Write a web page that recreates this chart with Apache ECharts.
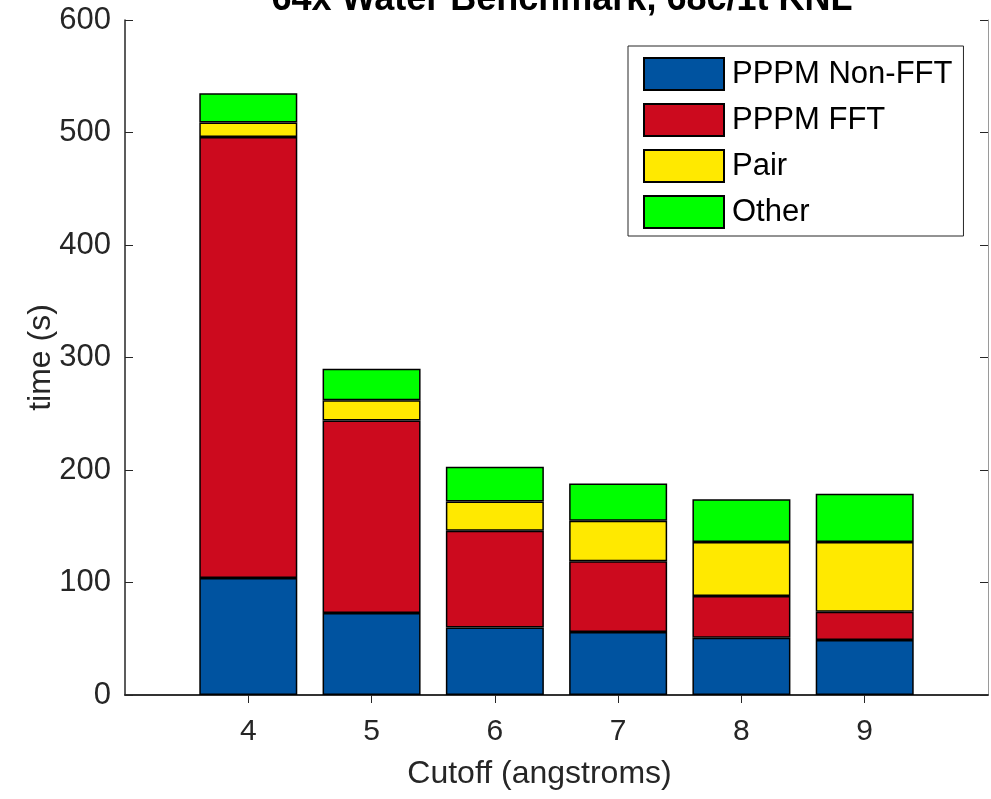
<!DOCTYPE html>
<html>
<head>
<meta charset="utf-8">
<title>64x Water Benchmark</title>
<script src="https://cdn.jsdelivr.net/npm/echarts@6/dist/echarts.min.js"></script>
<style>
  html, body { margin: 0; padding: 0; background: #ffffff; }
  #chart { width: 991px; height: 799px; }
</style>
</head>
<body>
<div id="chart"></div>
<script>
// Cutoff radius (angstroms) for each run; the axis spans 3..10
const cutoffs = [4, 5, 6, 7, 8, 9];
const axisSpan = [3, 4, 5, 6, 7, 8, 9, 10];

// Time spent in each part of the run, seconds
const pppmNonFFT = [104, 73, 60, 56, 51, 49];
const pppmFFT    = [392, 171, 86, 63, 37, 25];
const pairTime   = [13, 18, 26, 36, 48, 62];
const otherTime  = [26, 28, 31, 33, 38, 43];

const seriesNames  = ['PPPM Non-FFT', 'PPPM FFT', 'Pair', 'Other'];
const seriesColors = ['#0053A0', '#CC0A1E', '#FFE900', '#00FF00'];
const seriesValues = [pppmNonFFT, pppmFFT, pairTime, otherTime];

const yTicks = [0, 100, 200, 300, 400, 500, 600];

const FONT = 'Liberation Sans, Arial, Helvetica, sans-serif';
const INK = '#262626';

const chart = echarts.init(document.getElementById('chart'), null, { renderer: 'canvas' });

// Place each run's value on its cutoff slot; the end slots stay empty
function spread(values) {
  return axisSpan.map(c => {
    const k = cutoffs.indexOf(c);
    return k >= 0 ? values[k] : '-';
  });
}

// Only the cutoff slots get a tick mark, not the axis ends
const innerTick = idx => idx > 0 && idx < axisSpan.length - 1;

const series = seriesNames.map((name, i) => ({
  name: name,
  type: 'bar',
  stack: 'total',
  barWidth: 98,
  xAxisIndex: 0,
  yAxisIndex: 0,
  itemStyle: { color: seriesColors[i], borderColor: '#000000', borderWidth: 1.5 },
  emphasis: { disabled: true },
  data: spread(seriesValues[i])
}));

const option = {
  animation: false,
  backgroundColor: '#ffffff',
  textStyle: { fontFamily: FONT },
  title: {
    text: '64x Water Benchmark, 68c/1t KNL',
    left: 557,
    textAlign: 'center',
    top: -23,
    textStyle: { fontFamily: FONT, fontWeight: 'bold', fontSize: 36, color: '#000000' }
  },
  legend: {
    orient: 'vertical',
    left: 628,
    top: 46,
    itemWidth: 80,
    itemHeight: 32,
    itemGap: 12,
    padding: [11, 11, 7, 15],
    borderColor: INK,
    borderWidth: 1,
    backgroundColor: '#ffffff',
    icon: 'rect',
    selectedMode: false,
    textStyle: { fontFamily: FONT, fontSize: 31, color: '#000000', padding: [0, 0, 0, 3] },
    data: seriesNames
  },
  grid: { left: 125, right: 1, top: 20, bottom: 104, containLabel: false },
  xAxis: [
    {
      type: 'category',
      data: axisSpan.map(String),
      boundaryGap: false,
      position: 'bottom',
      name: 'Cutoff (angstroms)',
      nameLocation: 'middle',
      nameGap: 63,
      nameMoveOverlap: false,
      nameTextStyle: { fontFamily: FONT, fontSize: 32, color: INK, padding: [0, 34, 0, 0] },
      axisLine: { show: true, lineStyle: { color: INK, width: 1.5 } },
      axisTick: { show: true, inside: true, length: 8, interval: innerTick, lineStyle: { color: INK } },
      axisLabel: {
        fontFamily: FONT, fontSize: 30, color: INK, margin: 22, interval: 0,
        formatter: v => (cutoffs.indexOf(Number(v)) >= 0 ? v : '')
      },
      splitLine: { show: false }
    },
    {
      type: 'category',
      data: axisSpan.map(String),
      boundaryGap: false,
      position: 'top',
      axisLine: { show: true, lineStyle: { color: INK, width: 1.5 } },
      axisTick: { show: true, inside: true, length: 8, interval: innerTick, lineStyle: { color: INK } },
      axisLabel: { show: false },
      splitLine: { show: false }
    }
  ],
  yAxis: [
    {
      type: 'value',
      min: yTicks[0],
      max: yTicks[yTicks.length - 1],
      interval: 100,
      position: 'left',
      name: 'time (s)',
      nameLocation: 'middle',
      nameGap: 68,
      nameMoveOverlap: false,
      nameRotate: 90,
      nameTextStyle: { fontFamily: FONT, fontSize: 32, color: INK },
      axisLine: { show: true, lineStyle: { color: INK, width: 1.5 } },
      axisTick: { show: true, inside: true, length: 8, lineStyle: { color: INK } },
      axisLabel: { fontFamily: FONT, fontSize: 31, color: INK, margin: 14 },
      splitLine: { show: false }
    },
    {
      type: 'value',
      min: yTicks[0],
      max: yTicks[yTicks.length - 1],
      interval: 100,
      position: 'right',
      axisLine: { show: true, lineStyle: { color: '#9a9a9a', width: 1 } },
      axisTick: { show: true, inside: true, length: 8, lineStyle: { color: INK } },
      axisLabel: { show: false },
      splitLine: { show: false }
    }
  ],
  series: series
};

chart.setOption(option);
</script>
</body>
</html>
